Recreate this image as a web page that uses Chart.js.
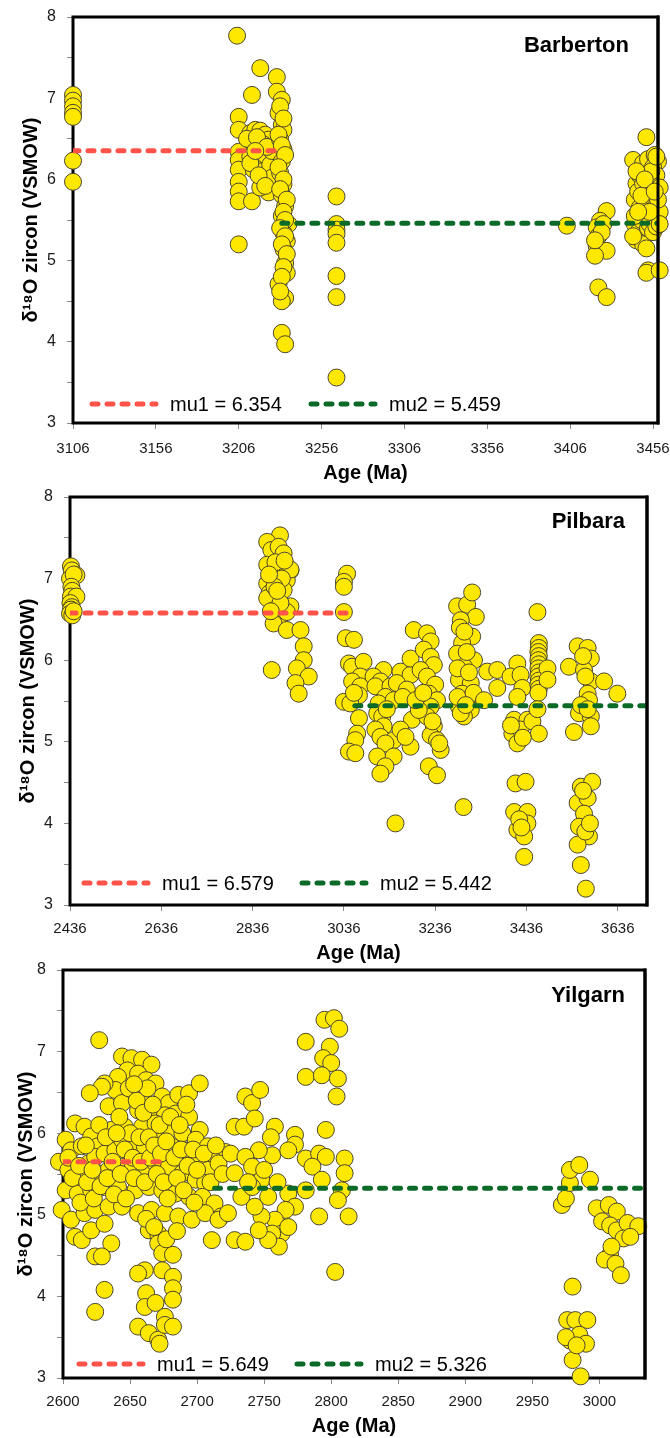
<!DOCTYPE html>
<html>
<head>
<meta charset="utf-8">
<script src="https://cdn.jsdelivr.net/npm/chart.js@4.4.0/dist/chart.umd.min.js"></script>
<style>
  html, body { margin: 0; padding: 0; background: #fff; }
  #wrap { position: relative; width: 670px; height: 1438px; }
  canvas { position: absolute; left: 0; }
</style>
</head>
<body>
<div id="wrap">
  <canvas id="c1" width="670" height="490" style="top:0px"></canvas>
  <canvas id="c2" width="670" height="490" style="top:478px"></canvas>
  <canvas id="c3" width="670" height="483" style="top:955px"></canvas>
</div>
<script>
// [age (Ma), d18O]
const barbertonPoints = [
  [3106,7.04],[3106,6.97],[3106,6.90],[3106,6.82],[3106,6.77],[3106,6.23],[3106,5.97],
  [3205,7.77],[3206,6.77],[3206,6.61],[3206,6.34],[3206,6.24],[3206,6.12],[3206,5.97],[3206,5.85],[3206,5.73],[3206,5.20],
  [3214,7.04],[3214,5.73],[3219,7.37],
  [3213,6.57],[3216,6.61],[3219,6.60],[3222,6.55],[3224,6.49],[3215,6.45],[3221,6.43],[3213,6.28],[3217,6.25],[3222,6.30],
  [3215,6.12],[3220,6.10],[3225,6.18],[3220,5.96],[3224,5.84],[3219,5.90],[3226,6.02],[3213,6.20],[3218,6.40],[3226,6.35],
  [3211,6.50],[3217,6.52],[3223,6.40],[3218,6.05],[3222,5.92],[3216,6.35],
  [3229,7.26],[3229,7.08],[3232,6.98],[3230,6.82],[3232,6.67],[3233,6.61],[3231,6.49],[3233,6.37],[3232,6.22],[3231,6.08],
  [3233,5.94],[3232,5.81],[3234,5.67],[3232,5.55],[3236,5.45],[3233,5.34],[3235,5.24],[3233,5.14],[3234,4.97],[3235,4.85],
  [3230,4.71],[3234,4.54],[3232,4.50],[3232,4.11],[3234,3.97],
  [3231,6.90],[3233,6.75],[3230,6.55],[3232,6.42],[3234,6.30],[3230,6.15],[3233,6.00],[3231,5.88],[3235,5.75],[3233,5.60],
  [3234,5.50],[3231,5.40],[3234,5.30],[3232,5.20],[3235,5.08],[3233,4.92],[3232,4.80],[3231,4.62],
  [3265,5.79],[3265,5.45],[3265,5.38],[3265,5.33],[3265,5.22],[3265,4.81],[3265,4.55],[3265,3.56],
  [3404,5.43],
  [3428,5.61],[3424,5.49],[3422,5.41],[3426,5.45],[3423,5.30],[3422,5.18],[3428,5.12],[3421,5.06],[3423,4.67],[3428,4.55],
  [3425,5.35],[3421,5.25],
  [3444,6.24],[3452,6.52],[3446,5.95],[3448,6.05],[3450,6.20],[3453,6.25],[3457,6.30],[3459,6.22],[3456,6.15],[3445,5.75],
  [3447,5.85],[3449,5.60],[3451,5.70],[3454,5.80],[3456,5.95],[3458,6.05],[3460,5.90],[3445,5.45],[3447,5.35],[3449,5.50],
  [3451,5.30],[3453,5.40],[3455,5.55],[3457,5.65],[3459,5.50],[3446,5.25],[3450,5.20],[3452,5.15],[3454,5.45],[3456,5.35],
  [3458,5.42],[3460,5.60],[3448,5.65],[3452,5.90],[3455,6.10],[3459,5.75],[3445,5.55],[3460,5.45],[3450,5.95],[3453,4.88],
  [3452,4.85],[3460,4.88],[3458,6.28],[3444,5.30],[3446,6.10],[3449,5.80],[3451,6.00],[3454,5.60],[3457,5.85],[3447,5.60]
];

const pilbaraPoints = [
  [2438,7.15],[2440,7.10],[2450,7.04],[2436,7.00],[2444,7.05],[2439,6.90],[2441,6.85],[2438,6.78],[2450,6.78],[2437,6.70],
  [2440,6.65],[2438,6.62],[2436,6.57],[2441,6.55],[2444,6.60],
  [2896,7.53],[2868,7.45],[2877,7.35],[2893,7.39],[2904,7.31],[2911,7.15],[2919,7.10],[2868,7.17],[2882,7.06],[2897,7.11],
  [2868,6.94],[2893,6.98],[2911,6.98],[2919,7.11],[2873,6.82],[2888,6.74],[2868,6.76],[2904,6.86],[2919,6.66],[2882,6.61],
  [2897,6.55],[2911,6.59],[2882,6.45],[2911,6.37],[2941,6.37],[2948,6.17],[2948,6.00],[2933,5.90],[2959,5.80],[2930,5.72],
  [2937,5.59],[2878,5.88],[2897,6.70],[2886,7.20],[2900,7.00],[2876,6.60],[2884,6.90],[2906,7.22],[2872,7.05],[2890,6.85],
  [3043,7.06],[3036,6.96],[3036,6.90],[3036,6.59],[3040,6.27],[3058,6.25],[3047,5.96],[3054,5.92],[3079,5.98],[3072,5.80],
  [3054,5.74],[3036,5.49],[3072,5.68],[3069,5.57],[3069,5.29],[3065,5.10],[3061,5.02],[3047,4.88],[3061,4.86],[3050,5.47],
  [3058,5.60],
  [3123,5.88],[3101,5.80],[3116,5.74],[3105,5.68],[3138,5.68],[3127,5.55],[3112,5.47],[3145,5.51],[3109,5.35],[3120,5.31],
  [3123,5.19],[3105,5.15],[3116,5.06],[3145,5.02],[3127,4.98],[3109,4.82],[3145,4.82],[3127,4.70],[3116,4.61],[3160,5.86],
  [3182,5.82],[3152,5.72],[3174,5.64],[3185,5.27],[3182,4.94],[3160,5.15],[3171,5.06],[3149,4.00],[3130,5.40],[3165,5.55],
  [3189,6.37],[3218,6.33],[3226,6.23],[3182,6.02],[3211,6.13],[3226,6.04],[3233,5.94],[3204,5.88],[3218,5.80],[3236,5.70],
  [3222,5.59],[3240,5.51],[3226,5.43],[3218,5.31],[3233,5.19],[3226,5.08],[3240,5.02],[3248,4.90],[3222,4.70],[3240,4.59],
  [3200,5.39],[3193,5.51],[3210,5.60],[3230,5.25],[3245,4.98],
  [3284,6.66],[3306,6.68],[3325,6.53],[3292,6.49],[3317,6.29],[3295,6.21],[3284,6.08],[3321,6.00],[3299,5.92],[3288,5.76],
  [3314,5.72],[3295,5.59],[3306,5.51],[3288,5.43],[3314,5.39],[3299,5.31],[3298,4.20],[3317,6.83],[3290,6.40],[3305,6.10],
  [3285,5.90],[3310,5.85],[3300,6.35],[3285,5.55],[3320,5.60],[3292,5.35],[3303,5.45],
  [3350,5.86],[3372,5.88],[3372,5.66],[3343,5.51],
  [3416,5.96],[3401,5.80],[3423,5.82],[3427,5.66],[3416,5.55],[3409,5.27],[3438,5.27],[3405,5.10],[3423,5.15],[3416,4.98],
  [3449,5.25],[3463,5.10],[3412,4.49],[3434,4.51],[3409,4.14],[3438,4.14],[3416,3.92],[3438,4.00],[3431,3.84],[3431,3.59],
  [3420,4.05],[3425,3.95],[3402,5.20],[3428,5.05],
  [3460,6.59],[3463,6.21],[3463,6.15],[3462,6.10],[3463,6.05],[3462,6.00],[3463,5.95],[3462,5.90],[3463,5.85],[3462,5.80],
  [3463,5.75],[3462,5.70],[3463,5.65],[3462,5.60],[3482,5.90],[3482,5.76],[3460,5.40],
  [3548,6.17],[3570,6.15],[3577,6.02],[3529,5.92],[3562,5.88],[3577,5.74],[3606,5.74],[3635,5.59],[3570,5.59],[3573,5.51],
  [3551,5.35],[3577,5.31],[3540,5.12],[3577,5.19],[3555,4.45],[3580,4.51],[3548,4.25],[3570,4.31],[3562,4.12],[3551,3.96],
  [3573,3.84],[3548,3.74],[3555,3.49],[3566,3.20],[3560,6.05],[3565,5.80],[3555,5.45],[3570,5.40],[3565,3.90],[3560,4.40],
  [3575,4.00]
];

const yilgarnPoints = [
  [2627,7.14],[2644,6.94],[2651,6.92],[2659,6.90],[2666,6.84],[2648,6.77],[2656,6.73],[2662,6.65],[2669,6.61],[2641,6.69],
  [2639,6.53],[2631,6.61],[2629,6.57],[2620,6.49],[2651,6.49],[2659,6.45],[2674,6.45],[2679,6.37],[2686,6.47],[2694,6.49],
  [2702,6.61],[2634,6.33],[2644,6.37],[2656,6.28],[2666,6.24],[2676,6.22],[2684,6.24],[2694,6.20],[2702,6.04],[2609,6.12],
  [2616,6.08],[2602,5.92],[2621,5.96],[2626,5.84],[2636,6.04],[2646,6.08],[2659,6.08],[2669,6.12],[2679,6.04],[2689,6.00],
  [2699,5.92],[2708,5.84],[2721,5.77],[2711,5.69],[2606,5.79],[2614,5.84],[2619,5.63],[2624,5.71],[2631,5.75],[2639,5.79],
  [2644,5.92],[2654,5.88],[2661,5.84],[2671,5.92],[2681,5.84],[2691,5.79],[2701,5.71],[2708,5.55],[2716,5.63],[2597,5.65],
  [2604,5.55],[2609,5.43],[2616,5.47],[2626,5.51],[2634,5.55],[2644,5.59],[2651,5.55],[2661,5.59],[2669,5.63],[2679,5.59],
  [2689,5.51],[2699,5.43],[2706,5.39],[2602,5.30],[2611,5.26],[2621,5.30],[2631,5.34],[2641,5.34],[2654,5.30],[2664,5.34],
  [2674,5.30],[2684,5.26],[2694,5.22],[2704,5.22],[2713,5.14],[2718,4.98],[2599,5.06],[2606,4.94],[2616,5.02],[2624,5.06],
  [2634,5.10],[2644,5.10],[2656,5.02],[2666,5.06],[2676,5.02],[2686,4.98],[2696,4.94],[2706,5.02],[2609,4.73],[2614,4.69],
  [2621,4.81],[2631,4.89],[2636,4.65],[2664,4.81],[2671,4.77],[2671,4.65],[2674,4.53],[2682,4.51],[2661,4.32],[2656,4.28],
  [2674,4.32],[2682,4.24],[2682,4.10],[2662,4.04],[2661,3.87],[2669,3.92],[2676,3.75],[2682,3.96],[2656,3.63],[2664,3.55],
  [2671,3.47],[2672,3.42],[2676,3.65],[2682,3.63],[2624,4.49],[2629,4.49],[2631,4.08],[2624,3.81],[2711,4.69],[2728,4.69],
  [2736,4.67],[2716,4.94],
  [2604,5.70],[2607,5.45],[2612,5.60],[2613,5.15],[2617,5.85],[2618,5.40],[2622,5.55],[2623,5.20],[2627,6.10],[2628,5.35],
  [2632,5.95],[2633,5.45],[2637,5.65],[2638,5.25],[2642,6.20],[2643,5.50],[2646,5.80],[2647,5.20],[2649,6.55],[2650,6.00],
  [2652,5.70],[2653,5.45],[2655,6.40],[2657,5.95],[2658,5.65],[2660,6.25],[2661,5.40],[2663,6.55],[2664,5.95],[2665,5.70],
  [2667,6.35],[2668,5.85],[2670,5.50],[2672,6.10],[2673,5.75],[2675,5.40],[2677,5.90],[2678,5.20],[2680,6.20],[2683,5.70],
  [2685,5.45],[2687,6.10],[2688,5.80],[2690,5.30],[2692,6.35],[2693,5.60],[2697,5.80],[2698,5.15],[2700,5.55],[2705,5.75],
  [2710,5.40],[2714,5.85],[2719,5.50],[2725,5.75],[2662,4.95],[2668,4.85],[2677,4.70],[2685,4.80],[2653,6.60],[2640,6.00],
  [2728,6.08],[2735,6.08],[2736,6.45],[2741,6.37],[2747,6.53],[2743,6.18],[2758,6.08],[2773,5.98],[2773,5.86],[2756,5.73],
  [2746,5.79],[2736,5.71],[2728,5.51],[2741,5.59],[2748,5.43],[2768,5.79],[2781,5.69],[2791,5.75],[2796,5.71],[2810,5.69],
  [2810,5.51],[2808,5.30],[2805,5.18],[2796,6.04],[2786,5.59],[2793,5.43],[2781,5.30],[2768,5.26],[2773,5.10],[2766,5.06],
  [2758,4.94],[2748,4.98],[2743,5.10],[2733,5.22],[2741,5.34],[2753,5.22],[2763,4.77],[2768,4.85],[2756,4.77],[2761,4.61],
  [2753,4.69],[2746,4.81],[2791,4.98],[2813,4.98],[2803,4.30],[2723,5.02],[2750,5.55],[2760,5.40],[2738,5.40],[2755,5.95],
  [2781,7.12],[2799,7.06],[2794,6.92],[2800,6.86],[2781,6.69],[2793,6.71],[2805,6.67],[2804,6.45],[2795,7.39],[2802,7.41],
  [2806,7.28],
  [2972,5.12],[2975,5.20],[2978,5.39],[2978,5.55],[2985,5.61],[2993,5.43],[2998,5.08],[3007,5.12],[3013,5.04],[3002,4.92],
  [3008,4.87],[3013,4.81],[3021,4.90],[3029,4.86],[3018,4.71],[3023,4.73],[3008,4.51],[3004,4.45],[3012,4.40],[3016,4.26],
  [3009,4.61],[2980,4.12],[2976,3.71],[2982,3.71],[2991,3.71],[2978,3.46],[2985,3.53],[2990,3.42],[2980,3.22],[2986,3.02],
  [2975,3.50],[2983,3.40]
];

// mean values and the age range each one spans
const barbertonMu = [6.354, 5.459];
const barbertonMuRange = [[3106, 3232], [3232, 3459]];
const pilbaraMu = [6.579, 5.442];
const pilbaraMuRange = [[2436, 3060], [3060, 3700]];
const yilgarnMu = [5.649, 5.326];
const yilgarnMuRange = [[2600, 2672], [2713, 3034]];

// axis ticks
const barbertonTicks = [3106, 3156, 3206, 3256, 3306, 3356, 3406, 3456];
const pilbaraTicks = [2436, 2636, 2836, 3036, 3236, 3436, 3636];
const yilgarnTicks = [2600, 2650, 2700, 2750, 2800, 2850, 2900, 2950, 3000];
const yTickValues = [3, 3.5, 4, 4.5, 5, 5.5, 6, 6.5, 7, 7.5, 8];

const FONT = '"Liberation Sans", Arial, "DejaVu Sans", sans-serif';
const RED = '#ff5249';
const GREEN = '#0b6a27';

// frame, panel name and the little legend inside the plot
const panelDecor = {
  id: 'panelDecor',
  beforeDatasetsDraw(chart) {
    const { ctx, chartArea: a } = chart;
    ctx.save();
    ctx.strokeStyle = '#000';
    ctx.lineWidth = 3;
    ctx.strokeRect(a.left, a.top, a.right - a.left, a.bottom - a.top);
    ctx.restore();
  },
  afterDatasetsDraw(chart, args, opts) {
    const { ctx, chartArea: a } = chart;
    ctx.save();
    // right edge sits on top of the points
    ctx.strokeStyle = '#000';
    ctx.lineWidth = 3;
    ctx.beginPath();
    ctx.moveTo(a.right, a.top - 1.5);
    ctx.lineTo(a.right, a.bottom + 1.5);
    ctx.stroke();

    ctx.fillStyle = '#000';
    ctx.font = 'bold 22px ' + FONT;
    ctx.textAlign = 'right';
    ctx.textBaseline = 'middle';
    ctx.fillText(opts.name, a.right - opts.titleDx, a.top + opts.titleDy);

    const y = a.bottom - opts.legendDy;
    chart.data.datasets.filter(d => d.showLine).forEach((d, i) => {
      const x0 = a.left + opts.legendX[i];
      ctx.beginPath();
      ctx.setLineDash(d.borderDash);
      ctx.lineCap = 'round';
      ctx.lineWidth = d.borderWidth;
      ctx.strokeStyle = d.borderColor;
      ctx.moveTo(x0, y);
      ctx.lineTo(x0 + 64, y);
      ctx.stroke();
      ctx.setLineDash([]);
      ctx.font = '20px ' + FONT;
      ctx.textAlign = 'left';
      ctx.fillStyle = '#000';
      ctx.fillText(d.label, x0 + 78, y + 1);
    });
    ctx.restore();
  }
};

function makePanel(p) {
  const canvas = document.getElementById(p.id);
  const H = canvas.height;
  const meanSets = p.mu.map((m, i) => ({
    label: 'mu' + (i + 1) + ' = ' + m.toFixed(3),
    data: p.muRange[i].map(x => ({ x: x, y: m })),
    showLine: true,
    borderColor: i === 0 ? RED : GREEN,
    borderWidth: 5,
    borderDash: [6, 9],
    borderCapStyle: 'round',
    pointRadius: 0,
    order: 0
  }));

  return new Chart(canvas, {
    type: 'scatter',
    data: {
      datasets: [
        ...meanSets,
        {
          label: p.name,
          data: p.points.map(pt => ({ x: pt[0], y: pt[1] })),
          backgroundColor: '#ffe800',
          borderColor: '#4a4530',
          borderWidth: 1,
          pointRadius: 8.5,
          pointHoverRadius: 8.5,
          clip: false,
          order: 1
        }
      ]
    },
    options: {
      responsive: false,
      animation: false,
      layout: { padding: { top: p.plotTop, right: 670 - p.plotRight, left: 0, bottom: 0 } },
      plugins: {
        legend: { display: false },
        tooltip: { enabled: false },
        panelDecor: { name: p.name, titleDx: p.titleDx, titleDy: p.titleDy, legendDy: p.legendDy, legendX: p.legendX }
      },
      scales: {
        x: {
          type: 'linear',
          min: p.xMin,
          max: p.xMax,
          afterBuildTicks: s => { s.ticks = p.xTicks.map(v => ({ value: v })); },
          afterFit: s => { s.height = H - p.plotBottom; s.paddingLeft = 0; s.paddingRight = 0; },
          border: { display: false },
          grid: { drawOnChartArea: false, drawTicks: true, tickLength: 6, color: '#888' },
          ticks: {
            padding: p.xTickPad, color: '#1a1a1a', maxRotation: 0, autoSkip: false,
            font: { size: 15, family: FONT },
            callback: v => String(v)
          },
          title: {
            display: true, text: 'Age (Ma)', color: '#000',
            font: { size: 20, weight: 'bold', family: FONT },
            padding: { top: 0, bottom: p.xTitlePad }
          }
        },
        y: {
          min: 3,
          max: 8,
          afterBuildTicks: s => { s.ticks = yTickValues.map(v => ({ value: v })); },
          afterFit: s => { s.width = p.plotLeft; s.paddingTop = 0; s.paddingBottom = 0; },
          border: { display: false },
          grid: { drawOnChartArea: false, drawTicks: true, tickLength: 6, color: '#888' },
          ticks: {
            padding: 11, color: '#1a1a1a', autoSkip: false,
            font: { size: 16, family: FONT },
            callback: v => Number.isInteger(v) ? String(v) : ''
          },
          title: {
            display: true, text: 'δ¹⁸O zircon (VSMOW)', color: '#000',
            font: { size: 20, weight: 'bold', family: FONT },
            padding: { top: p.yTitlePad, bottom: 0 }
          }
        }
      }
    },
    plugins: [panelDecor]
  });
}

makePanel({
  id: 'c1', name: 'Barberton', points: barbertonPoints, mu: barbertonMu, muRange: barbertonMuRange,
  xMin: 3106, xMax: 3459, xTicks: barbertonTicks,
  plotTop: 17, plotBottom: 423, plotLeft: 73, plotRight: 658,
  xTickPad: 11, xTitlePad: 5, yTitlePad: 19,
  titleDx: 29, titleDy: 29, legendDy: 19, legendX: [19, 238]
});

makePanel({
  id: 'c2', name: 'Pilbara', points: pilbaraPoints, mu: pilbaraMu, muRange: pilbaraMuRange,
  xMin: 2436, xMax: 3700, xTicks: pilbaraTicks,
  plotTop: 19, plotBottom: 427, plotLeft: 70, plotRight: 647,
  xTickPad: 9, xTitlePad: 3, yTitlePad: 16,
  titleDx: 22, titleDy: 25, legendDy: 22, legendX: [14, 232]
});

makePanel({
  id: 'c3', name: 'Yilgarn', points: yilgarnPoints, mu: yilgarnMu, muRange: yilgarnMuRange,
  xMin: 2600, xMax: 3034, xTicks: yilgarnTicks,
  plotTop: 15, plotBottom: 423, plotLeft: 63, plotRight: 645,
  xTickPad: 9, xTitlePad: 0, yTitlePad: 14,
  titleDx: 20, titleDy: 26, legendDy: 14, legendX: [16, 234]
});
</script>
</body>
</html>
